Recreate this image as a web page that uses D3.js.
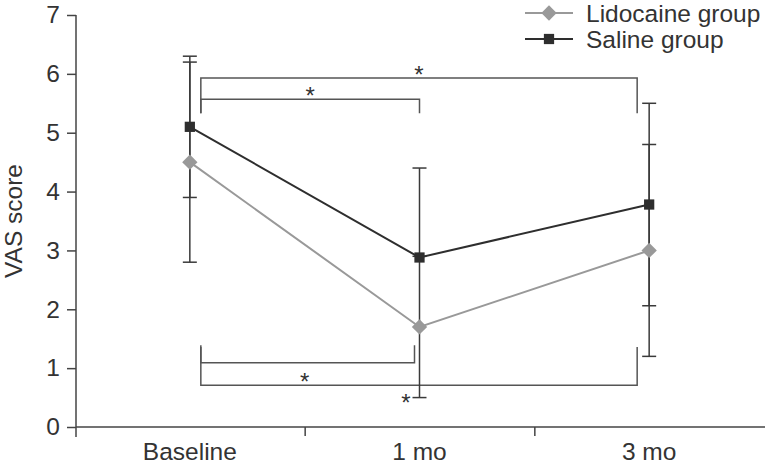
<!DOCTYPE html>
<html>
<head>
<meta charset="utf-8">
<script src="https://cdn.jsdelivr.net/npm/d3@7"></script>
<style>
  body { margin: 0; background: #fff; }
  text { font-family: "Liberation Sans", Arial, sans-serif; fill: #333; }
</style>
</head>
<body>
<div id="chart"></div>
<script>
const categories = ["Baseline", "1 mo", "3 mo"];
const yTicks = [0, 1, 2, 3, 4, 5, 6, 7];

const lidocaineMean = [4.5, 1.7, 3.0];
const lidocaineHi = [6.2, 2.9, 4.8];
const lidocaineLo = [2.8, 0.5, 1.2];

const salineMean = [5.1, 2.88, 3.78];
const salineHi = [6.3, 4.4, 5.5];
const salineLo = [3.9, null, 2.06];

// significance brackets (category index, value level)
const brackets = [
  { from: 0, to: 1, level: 5.57, leg: 5.33, dxFrom: 11, dxTo: 0, starDx: 0, starDy: -8 },
  { from: 0, to: 2, level: 5.93, leg: 5.33, dxFrom: 11, dxTo: -12, starDx: 0, starDy: -8 },
  { from: 0, to: 1, level: 1.09, leg: 1.39, dxFrom: 11, dxTo: -5, starDx: -3, starDy: 14 },
  { from: 0, to: 2, level: 0.71, leg: 1.36, dxFrom: 11, dxTo: -12, starDx: -13, starDy: 13 },
];

const width = 765, height = 466;
const fontSize = "24.5px";
const svg = d3.select("#chart").append("svg").attr("width", width).attr("height", height);

const x = d3.scaleBand().domain(categories).range([75, 764]);
const xEdge = d3.scaleLinear().domain([0, categories.length]).range([75, 764]);
const y = d3.scaleLinear().domain([0, 7]).range([427, 15]);
const cx = (i) => x(categories[i]) + x.bandwidth() / 2;

// axes
const yAxis = svg.append("g").attr("transform", "translate(76,0)")
  .call(d3.axisLeft(y).tickValues(yTicks).tickFormat(d3.format("d")).tickSize(9).tickSizeOuter(0).tickPadding(7));
yAxis.select(".domain").remove();
yAxis.append("line").attr("x1", 0).attr("x2", 0).attr("y1", y(7)).attr("y2", y(0) + 10)
  .attr("stroke", "#444").attr("stroke-width", 1.5);

const xAxis = svg.append("g").attr("transform", `translate(0,${y(0)})`)
  .call(d3.axisBottom(xEdge).tickValues(d3.range(1, categories.length)).tickFormat("").tickSize(9).tickSizeOuter(0));
xAxis.select(".domain").attr("d", `M76,0H765`);

const xLab = svg.append("g").attr("transform", `translate(0,${y(0)})`)
  .call(d3.axisBottom(x).tickSize(0).tickPadding(16));
xLab.select(".domain").remove();

svg.selectAll(".domain, .tick line").attr("stroke", "#444").attr("stroke-width", 1.5);
svg.selectAll(".tick text").style("font-size", fontSize).attr("fill", "#333")
  .style("font-family", '"Liberation Sans", Arial, sans-serif');

svg.append("text").attr("transform", `translate(22,${y(3.5)}) rotate(-90)`)
  .attr("text-anchor", "middle").style("font-size", fontSize).text("VAS score");

// brackets
const bg = svg.append("g").attr("fill", "none").attr("stroke", "#555").attr("stroke-width", 1.5);
brackets.forEach((b) => {
  const x0 = cx(b.from) + b.dxFrom, x1 = cx(b.to) + b.dxTo;
  bg.append("path").attr("d", `M${x0},${y(b.leg)}V${y(b.level)}H${x1}V${y(b.leg)}`);
  svg.append("text").attr("x", (x0 + x1) / 2 + b.starDx).attr("y", y(b.level) + b.starDy + 13)
    .attr("text-anchor", "middle").style("font-size", "24px").text("*");
});

// error bars
const errG = svg.append("g").attr("stroke", "#3a3a3a").attr("stroke-width", 1.5);
function errorBars(mean, hi, lo) {
  mean.forEach((m, i) => {
    const top = hi[i] ?? m, bot = lo[i] ?? m;
    errG.append("line").attr("x1", cx(i)).attr("x2", cx(i)).attr("y1", y(top)).attr("y2", y(bot));
    [hi[i], lo[i]].forEach((v) => {
      if (v == null) return;
      errG.append("line").attr("x1", cx(i) - 7).attr("x2", cx(i) + 7).attr("y1", y(v)).attr("y2", y(v));
    });
  });
}
errorBars(salineMean, salineHi, salineLo);
errorBars(lidocaineMean, lidocaineHi, lidocaineLo);

const line = d3.line().x((d, i) => cx(i)).y((d) => y(d));
const series = [
  { name: "Lidocaine group", values: lidocaineMean, color: "#999999", symbol: d3.symbolDiamond2, size: 150 },
  { name: "Saline group", values: salineMean, color: "#2e2e2e", symbol: d3.symbolSquare, size: 105 },
];

series.forEach((s) => {
  svg.append("path").attr("d", line(s.values)).attr("fill", "none").attr("stroke", s.color).attr("stroke-width", 2);
});
series.forEach((s) => {
  svg.selectAll(null).data(s.values).join("path")
    .attr("d", d3.symbol(s.symbol, s.size))
    .attr("transform", (d, i) => `translate(${cx(i)},${y(d)})`)
    .attr("fill", s.color);
});

// legend
const legend = svg.append("g");
series.forEach((s, i) => {
  const ly = 13 + i * 26;
  legend.append("line").attr("x1", 525).attr("x2", 573).attr("y1", ly).attr("y2", ly)
    .attr("stroke", s.color).attr("stroke-width", 2);
  legend.append("path").attr("d", d3.symbol(s.symbol, s.size)).attr("transform", `translate(549,${ly})`).attr("fill", s.color);
  legend.append("text").attr("x", 586).attr("y", ly + 9).style("font-size", fontSize).text(s.name);
});
</script>
</body>
</html>
